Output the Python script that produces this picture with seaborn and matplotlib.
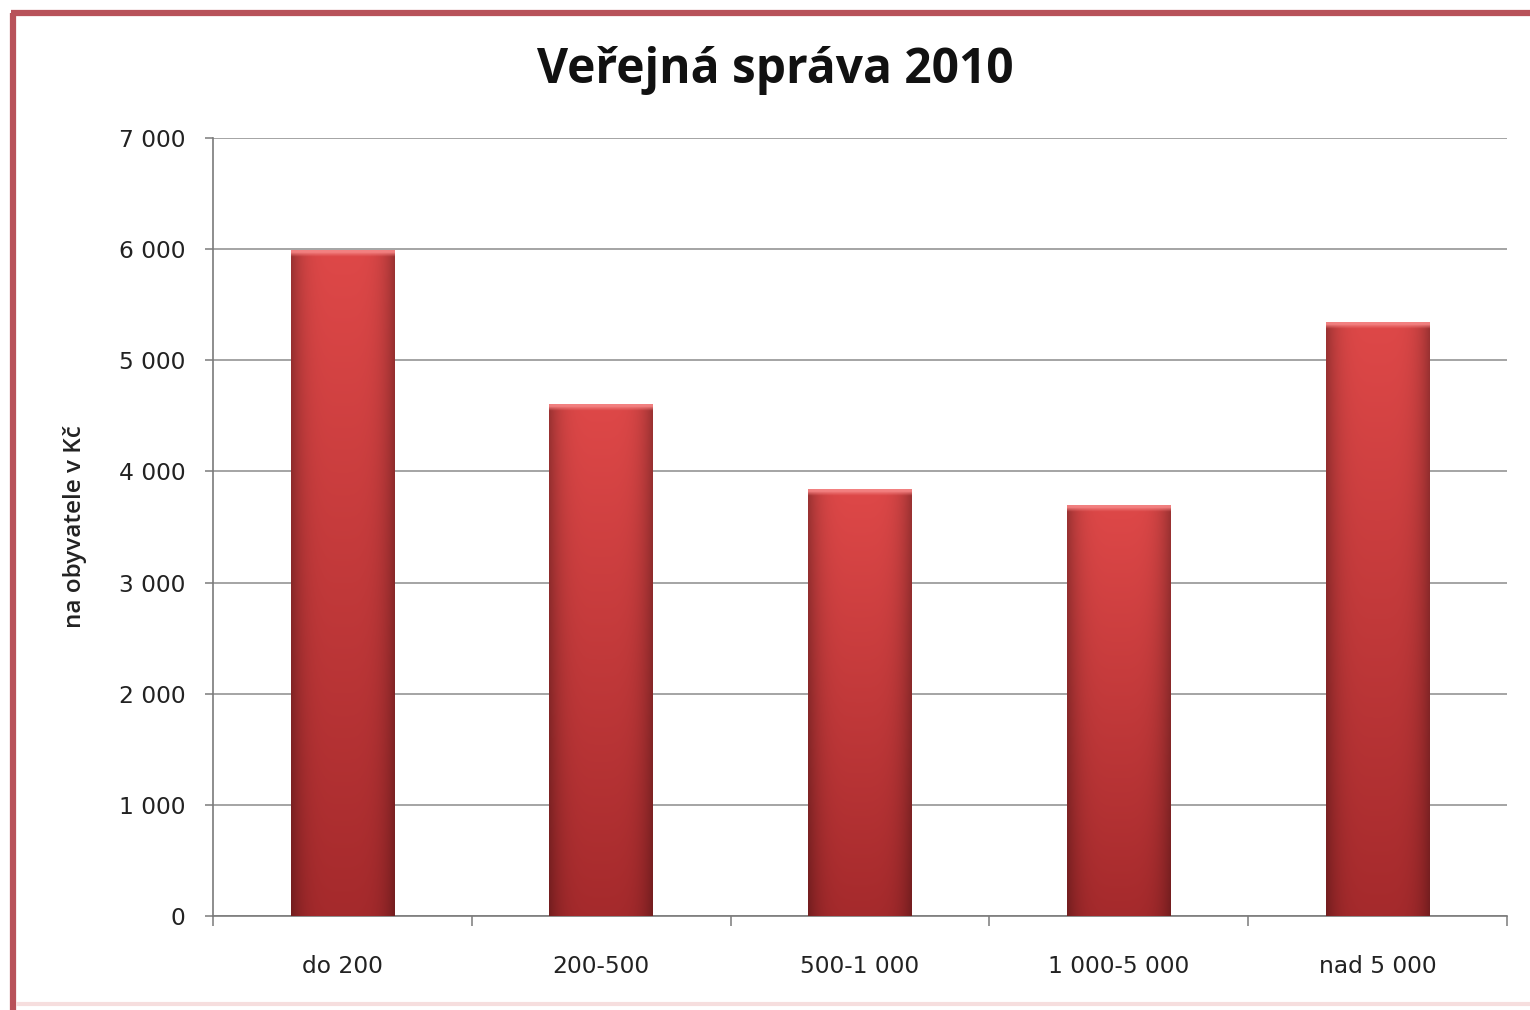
import numpy as np
import pandas as pd
import matplotlib
matplotlib.use("Agg")
import matplotlib.pyplot as plt
import seaborn as sns
from matplotlib.lines import Line2D

categories = ["do 200", "200-500", "500-1 000", "1 000-5 000", "nad 5 000"]
values = [5990, 4610, 3840, 3700, 5340]
yticks = [0, 1000, 2000, 3000, 4000, 5000, 6000, 7000]
ytick_labels = ["0", "1 000", "2 000", "3 000", "4 000", "5 000", "6 000", "7 000"]
title = "Veřejná správa 2010"
ylabel = "na obyvatele v Kč"

sns.set_theme(style="white")
plt.rcParams['font.family'] = ['Open Sans', 'DejaVu Sans']

df = pd.DataFrame({"cat": categories, "val": values})

fig = plt.figure(figsize=(15.3, 10.1), dpi=100)
ax = fig.add_axes([213/1530, 1-916/1010, (1507-213)/1530, (916-138)/1010])

sns.barplot(data=df, x="cat", y="val", color="#c63a3c", width=0.4, ax=ax,
            saturation=1, edgecolor="none", zorder=3)

ax.set_xlim(-0.5, 4.5)
ax.set_ylim(0, 7000)
ax.set_yticks(yticks)
ax.set_yticklabels(ytick_labels)
ax.yaxis.grid(True, color="#8c8c8c", linewidth=1.1, zorder=0)
ax.set_axisbelow(True)
for s in ["top", "right"]:
    ax.spines[s].set_visible(False)
for s in ["left", "bottom"]:
    ax.spines[s].set_color("#7a7a7a")
    ax.spines[s].set_linewidth(1.2)

ax.tick_params(axis="y", which="major", left=True, length=6, width=1.1, color="#7a7a7a",
               labelsize=16.8, labelcolor="#222222", pad=14)
ax.tick_params(axis="x", which="major", bottom=False, length=0, labelsize=16.8,
               labelcolor="#222222", pad=28)
for lab in ax.get_xticklabels() + ax.get_yticklabels():
    lab.set_family(["DejaVu Sans"])
ax.set_xticks(np.arange(-0.5, 5.0, 1.0), minor=True)
ax.tick_params(axis="x", which="minor", bottom=True, length=7, width=1.1, color="#7a7a7a")
ax.set_xlabel("")
ax.set_ylabel(ylabel, fontsize=17.5, fontweight="semibold", color="#222222")
ax.yaxis.set_label_coords((87 - 213) / 1294, 0.5)

# gradient overlay on bars
top_c = np.array([222, 72, 72]) / 255
bot_c = np.array([165, 42, 44]) / 255
nx, ny = 100, 200
xs = np.linspace(0, 1, nx)
ys = np.linspace(0, 1, ny)[:, None]
hprof = 1 - 0.30 * np.abs(2 * xs - 1) ** 4
for p in list(ax.patches):
    x0, y0 = p.get_x(), p.get_y()
    w, h = p.get_width(), p.get_height()
    if h <= 0:
        continue
    col = bot_c[None, None, :] * (1 - ys[..., None]) + top_c[None, None, :] * ys[..., None]
    img = np.clip(col * hprof[None, :, None], 0, 1)
    im = ax.imshow(img, extent=[x0, x0 + w, y0, y0 + h], origin="lower",
                   aspect="auto", zorder=4, interpolation="bilinear")
    im.set_clip_path(p)
    hl = ax.imshow(np.array([[[0.93, 0.45, 0.45, 0.0]], [[0.96, 0.52, 0.52, 0.95]]]),
                   extent=[x0, x0 + w, y0 + h - 80, y0 + h], origin="lower",
                   aspect="auto", zorder=5, interpolation="bilinear")
    hl.set_clip_path(p)
ax.set_xlim(-0.5, 4.5)
ax.set_ylim(0, 7000)

fig.text(775/1530, 1 - 70/1010, title, ha="center", va="center", fontsize=34.5,
         fontweight="bold", color="#111111")

frame_col = "#b8525a"
fig.add_artist(Line2D([13/1530, 13/1530], [0, 1 - 13/1010], transform=fig.transFigure,
                      color=frame_col, linewidth=4.5, solid_capstyle="butt"))
fig.add_artist(Line2D([11/1530, 1], [1 - 13/1010, 1 - 13/1010], transform=fig.transFigure,
                      color=frame_col, linewidth=4.5, solid_capstyle="butt"))
fig.add_artist(Line2D([16/1530, 1], [1 - 1004/1010, 1 - 1004/1010], transform=fig.transFigure,
                      color="#f6dede", linewidth=3, solid_capstyle="butt"))

fig.savefig("out.png", dpi=100, facecolor="white")
